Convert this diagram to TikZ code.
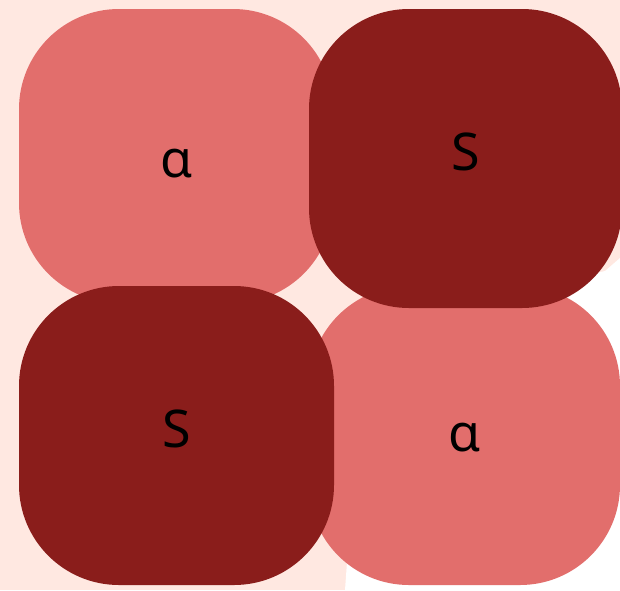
\documentclass[tikz,border=0pt]{standalone}
\usepackage{fontspec}
\setmainfont{Noto Sans}
\definecolor{bgpink}{HTML}{FFE8E1}
\definecolor{lightred}{HTML}{E26E6C}
\definecolor{darkred}{HTML}{8A1D1B}
\begin{document}
\begin{tikzpicture}[x=1pt,y=-1pt,
  tile/.style={rectangle, rounded corners=100pt, inner sep=0pt, draw=none},
  lighttile/.style={tile, fill=lightred},
  darktile/.style={tile, fill=darkred},
  lbl/.style={font=\fontsize{52}{60}\selectfont, text=black, anchor=base, inner sep=0pt}]
\clip (0,0) rectangle (620,590);
\fill[bgpink] (0,0) rectangle (620,590);
\fill[white] (345,590) -- (347,562) .. controls (360,430) and (470,300) .. (605,271) -- (620,258) -- (620,590) -- cycle;
% light tiles
\node[lighttile, minimum width=314pt, minimum height=294pt] (tl) at (176,156) {};
\node[lighttile, minimum width=311pt, minimum height=299pt] (br) at (464.5,435.5) {};
% dark tiles
\node[darktile, minimum width=313pt, minimum height=299pt] (tr) at (465.5,158.5) {};
\node[darktile, minimum width=315pt, minimum height=299pt] (bl) at (176.5,435.5) {};
% labels
\node[lbl] (ltl) at (177,177) {α};
\node[lbl] (ltr) at (466,170) {S};
\node[lbl] (lbl1) at (177,447) {S};
\node[lbl] (lbr) at (465,451) {α};
\end{tikzpicture}
\end{document}
